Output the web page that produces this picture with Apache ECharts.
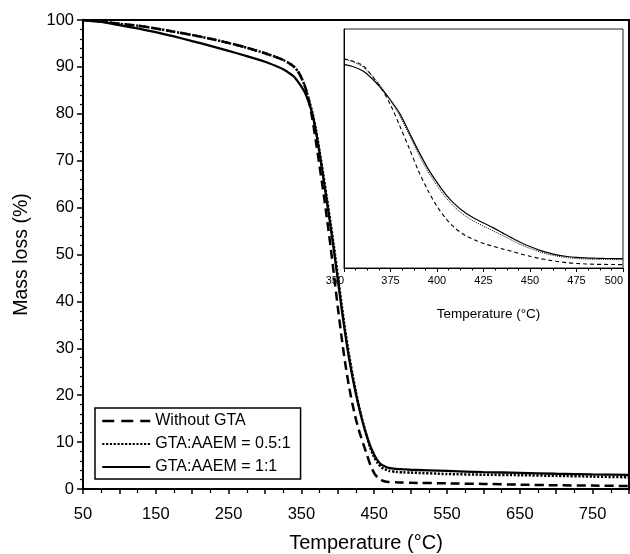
<!DOCTYPE html>
<html>
<head>
<meta charset="utf-8">
<script src="https://cdn.jsdelivr.net/npm/echarts@6/dist/echarts.min.js"></script>
<style>
html,body{margin:0;padding:0;background:#fff;}
#chart{width:630px;height:554px;}
</style>
</head>
<body>
<div id="chart"></div>
<script>
// ---- Main chart data (Temperature °C vs Mass loss %) ----
const mainTemps = [50,75,100,125,150,175,200,225,250,275,300,315,325,335,340,345,350,355,360,365,370,375,380,385,390,395,400,405,410,415,420,425,430,435,440,445,450,455,460,465,470,480,490,500,550,600,650,700,750,800];
const withoutGTA = [100,99.7,99.2,98.8,98.2,97.5,96.8,96.0,95.1,94.1,92.9,92.1,91.5,90.6,90.0,89.1,87.7,85.8,83.0,79.0,74.0,68.8,63.5,57.8,51.8,45.3,38.8,32.6,27.0,22.2,18.2,14.8,12.0,9.6,7.3,5.0,3.4,2.4,1.9,1.6,1.5,1.42,1.36,1.33,1.2,1.08,0.93,0.8,0.72,0.64];
const gtaHalf = [100,99.7,99.2,98.8,98.2,97.5,96.8,96.0,95.1,94.1,92.9,92.1,91.5,90.6,90.0,89.1,87.7,85.8,83.2,80.3,76.6,72.0,67.1,62.0,56.8,51.3,45.5,39.6,34.0,29.0,24.6,20.6,17.0,13.9,11.1,8.6,6.8,5.5,4.6,4.2,3.9,3.65,3.55,3.5,3.2,3.05,2.95,2.8,2.65,2.5];
const gtaOne = [100,99.6,98.9,98.2,97.4,96.5,95.5,94.5,93.4,92.3,91.1,90.2,89.5,88.5,87.9,86.9,85.8,84.5,82.5,80.0,76.2,71.5,66.5,61.3,56.0,50.5,44.7,38.8,33.3,28.3,24.0,20.2,16.8,13.8,11.2,9.0,7.3,6.0,5.2,4.8,4.5,4.3,4.2,4.1,3.85,3.6,3.45,3.25,3.1,3.0];

// ---- Inset data (350–500 °C) ----
const insetTemps = [350,355,360,365,370,375,380,385,390,395,400,405,410,415,420,425,430,435,440,445,450,455,460,465,470,475,480,485,490,495,500];
const insetWithoutGTA = [87.5,86.5,84.8,80.5,75.2,68.3,59.4,50.2,40.7,32.6,25.8,20.5,16.5,13.7,11.8,10.3,9.1,8.0,7.0,5.9,4.9,4.0,3.3,2.7,2.2,1.9,1.7,1.55,1.5,1.45,1.4];
const insetGtaHalf = [87.5,86.2,84.2,80.5,75.8,70.0,63.6,55.8,47.8,40.5,34.5,29.2,25.1,21.9,19.5,17.5,15.6,13.7,11.7,9.8,8.2,6.8,5.7,4.9,4.3,3.95,3.75,3.65,3.6,3.55,3.5];
const insetGtaOne = [85.2,84.2,82.5,79.3,75.2,70.3,64.6,56.8,49.0,41.8,35.8,30.5,26.4,23.2,20.8,18.8,16.9,14.8,12.7,10.7,9.0,7.5,6.3,5.4,4.8,4.45,4.25,4.1,4.0,3.95,3.9];

// ---- Labels ----
const seriesNames = ['Without GTA', 'GTA:AAEM = 0.5:1', 'GTA:AAEM = 1:1'];
const mainXTickLabels = [50,150,250,350,450,550,650,750];
const mainYTickLabels = [0,10,20,30,40,50,60,70,80,90,100];
const insetXTickLabels = [350,375,400,425,450,475,500];
const xTitle = 'Temperature (°C)';
const yTitle = 'Mass loss (%)';

const pair = (xs, ys) => xs.map((x, i) => [x, ys[i]]);
const FONT = 'Liberation Sans, Arial, sans-serif';

const chart = echarts.init(document.getElementById('chart'), null, {renderer: 'canvas'});
const option = {
  backgroundColor: '#fff',
  animation: false,
  textStyle: {fontFamily: FONT, color: '#000'},
  legend: {
    orient: 'vertical', left: 95, top: 408,
    padding: [5, 10, 4, 6], itemGap: 7, itemWidth: 48, itemHeight: 14,
    borderColor: '#000', borderWidth: 1.5, backgroundColor: '#fff',
    itemStyle: {color: 'rgba(0,0,0,0)', borderWidth: 0, borderColor: 'rgba(0,0,0,0)', opacity: 0},
    textStyle: {fontSize: 16, color: '#000', fontFamily: FONT},
    data: [
      {name: seriesNames[0], lineStyle: {type: [12, 7], width: 2.5, color: '#000'}},
      {name: seriesNames[1]},
      {name: seriesNames[2]}
    ]
  },
  grid: [
    {left: 83, right: 1, top: 20, bottom: 65, outerBoundsMode: 'none', containLabel: false,
      show: true, borderColor: '#000', borderWidth: 2, backgroundColor: 'transparent'},
    {left: 344, right: 7, top: 29, bottom: 286, outerBoundsMode: 'none', containLabel: false,
      show: true, borderColor: '#222', borderWidth: 1, backgroundColor: '#fff'}
  ],
  xAxis: [
    {
      gridIndex: 0, type: 'value', min: 50, max: 800, interval: 50,
      name: xTitle, nameLocation: 'middle', nameGap: 44,
      nameTextStyle: {fontSize: 20, color: '#000', fontFamily: FONT, padding: [0, 0, 0, 20]},
      axisLine: {show: true, onZero: false, lineStyle: {color: '#000', width: 2}},
      axisTick: {show: true, inside: false, length: 5, lineStyle: {color: '#000', width: 1.5}},
      minorTick: {show: true, splitNumber: 2, length: 4, lineStyle: {color: '#000', width: 1.2}},
      axisLabel: {fontSize: 16.5, color: '#000', margin: 17, fontFamily: FONT,
        formatter: v => mainXTickLabels.includes(v) ? String(v) : ''},
      splitLine: {show: false}
    },
    {
      gridIndex: 1, type: 'value', min: 350, max: 500, interval: 25, z: 10,
      name: xTitle, nameLocation: 'middle', nameGap: 39,
      nameTextStyle: {fontSize: 13.5, color: '#000', fontFamily: FONT, padding: [0, 0, 0, 10]},
      axisLine: {show: true, onZero: false, lineStyle: {color: '#000', width: 1}},
      axisTick: {show: true, length: 4, lineStyle: {color: '#000', width: 1}},
      minorTick: {show: true, splitNumber: 4, length: 2.5, lineStyle: {color: '#000', width: 1}},
      axisLabel: {fontSize: 11, color: '#000', margin: 7, fontFamily: FONT,
        showMinLabel: true, showMaxLabel: true, hideOverlap: false,
        alignMinLabel: 'right', alignMaxLabel: 'right',
        formatter: v => insetXTickLabels.includes(v) ? String(v) : ''},
      splitLine: {show: false}
    }
  ],
  yAxis: [
    {
      gridIndex: 0, type: 'value', min: 0, max: 100, interval: 10,
      name: yTitle, nameLocation: 'middle', nameGap: 51,
      nameTextStyle: {fontSize: 19.5, color: '#000', fontFamily: FONT},
      axisLine: {show: true, lineStyle: {color: '#000', width: 2}},
      axisTick: {show: true, length: 6, lineStyle: {color: '#000', width: 1.5}},
      minorTick: {show: true, splitNumber: 5, length: 3, lineStyle: {color: '#000', width: 1.2}},
      axisLabel: {fontSize: 16.5, color: '#000', margin: 9, fontFamily: FONT,
        formatter: v => mainYTickLabels.includes(v) ? String(v) : ''},
      splitLine: {show: false}
    },
    {
      gridIndex: 1, type: 'value', min: 0, max: 100,
      axisLine: {show: true, lineStyle: {color: '#000', width: 1}},
      axisTick: {show: false}, axisLabel: {show: false}, splitLine: {show: false}
    }
  ],
  series: [
    {name: seriesNames[0], type: 'line', xAxisIndex: 0, yAxisIndex: 0, data: pair(mainTemps, withoutGTA),
      symbol: 'none', smooth: 0.2, lineStyle: {color: '#000', width: 2.5, type: [9, 5]}, itemStyle: {color: '#000'}, z: 3},
    {name: seriesNames[1], type: 'line', xAxisIndex: 0, yAxisIndex: 0, data: pair(mainTemps, gtaHalf),
      symbol: 'none', smooth: 0.2, lineStyle: {color: '#000', width: 2.5, type: [2.2, 1.6]}, itemStyle: {color: '#000'}, z: 3},
    {name: seriesNames[2], type: 'line', xAxisIndex: 0, yAxisIndex: 0, data: pair(mainTemps, gtaOne),
      symbol: 'none', smooth: 0.2, lineStyle: {color: '#000', width: 2.3, type: 'solid'}, itemStyle: {color: '#000'}, z: 3},
    {name: 'inset-0', type: 'line', xAxisIndex: 1, yAxisIndex: 1, data: pair(insetTemps, insetWithoutGTA),
      symbol: 'none', smooth: 0.3, lineStyle: {color: '#000', width: 1.1, type: [4, 3]}, z: 4},
    {name: 'inset-1', type: 'line', xAxisIndex: 1, yAxisIndex: 1, data: pair(insetTemps, insetGtaHalf),
      symbol: 'none', smooth: 0.3, lineStyle: {color: '#000', width: 1, type: [1, 1.2]}, z: 4},
    {name: 'inset-2', type: 'line', xAxisIndex: 1, yAxisIndex: 1, data: pair(insetTemps, insetGtaOne),
      symbol: 'none', smooth: 0.3, lineStyle: {color: '#000', width: 1.2, type: 'solid'}, z: 4}
  ]
};
chart.setOption(option);
</script>
</body>
</html>
